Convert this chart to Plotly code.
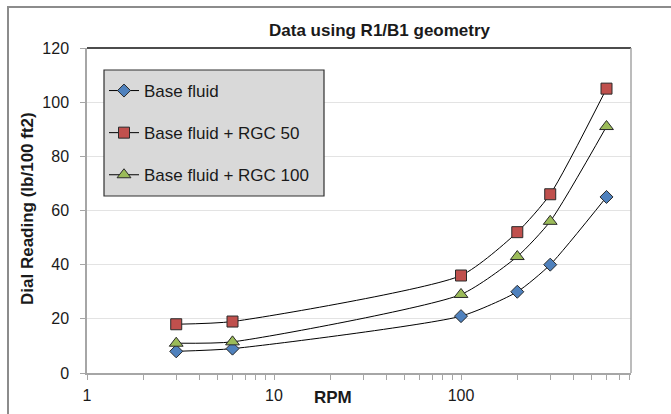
import plotly.graph_objects as go

rpm = [3, 6, 100, 200, 300, 600]
base_fluid = [8, 9, 21, 30, 40, 65]
rgc50 = [18, 19, 36, 52, 66, 105]
rgc100 = [11, 11.5, 29, 43, 56, 91]

series_names = ["Base fluid", "Base fluid + RGC 50", "Base fluid + RGC 100"]
x_tick_vals = [1, 10, 100]
x_tick_text = ["1", "10", "100"]
minor_vals = [2, 3, 4, 5, 6, 7, 8, 9, 20, 30, 40, 50, 60, 70, 80, 90,
              200, 300, 400, 500, 600, 700, 800, 900]

FONT = "Liberation Sans, Arial, sans-serif"
TXT = "#1a1a1a"

# plot area in pixels
L, R, T, B = 87, 631, 48, 373
W, H = 671, 414
pw, ph = R - L, B - T


def px(p):
    return (p - L) / pw


def py(q):
    return (B - q) / ph


fig = go.Figure()
styles = [
    dict(symbol="diamond", color="#4f81bd", size=10),
    dict(symbol="square", color="#c0504d", size=11),
    dict(symbol="triangle-up", color="#9bbb59", size=12),
]
for name, vals, st in zip(series_names, [base_fluid, rgc50, rgc100], styles):
    fig.add_trace(go.Scatter(
        x=rpm, y=vals, name=name, mode="lines+markers",
        legendgroup=name,
        line=dict(color="#000000", width=1, shape="spline", smoothing=0.6),
        marker=dict(symbol=st["symbol"], color=st["color"], size=st["size"],
                    line=dict(color="#2a2a2a", width=1)),
    ))

shapes = [
    # outer chart frame
    dict(type="rect", xref="paper", yref="paper",
         x0=px(8), x1=px(700), y0=py(430), y1=py(7),
         line=dict(color="#8c8c8c", width=2), fillcolor="rgba(0,0,0,0)", layer="below"),
    # legend box
    dict(type="rect", xref="paper", yref="paper",
         x0=px(104), x1=px(324), y0=py(196), y1=py(70),
         line=dict(color="#303030", width=1.2), fillcolor="#d9d9d9", layer="above"),
    # top border of plot area
    dict(type="line", xref="paper", yref="paper", x0=0, x1=1, y0=1, y1=1,
         line=dict(color="#111111", width=1.5)),
    # right border of plot area
    dict(type="line", xref="paper", yref="paper", x0=1, x1=1, y0=0, y1=1,
         line=dict(color="#a6a6a6", width=1.5)),
]

annotations = [
    dict(text="<b>Data using R1/B1 geometry</b>", xref="paper", yref="paper",
         x=px(380), y=py(30), xanchor="center", yanchor="middle", showarrow=False,
         font=dict(family=FONT, size=17, color=TXT)),
    dict(text="<b>Dial Reading (lb/100 ft2)</b>", xref="paper", yref="paper",
         x=px(27), y=py(209), xanchor="center", yanchor="middle", showarrow=False,
         textangle=-90, font=dict(family=FONT, size=17, color=TXT)),
    dict(text="<b>RPM</b>", xref="paper", yref="paper",
         x=px(333), y=py(397), xanchor="center", yanchor="middle", showarrow=False,
         font=dict(family=FONT, size=17, color=TXT)),
]

fig.update_layout(
    width=W, height=H,
    margin=dict(l=L, r=W - R, t=T, b=H - B, autoexpand=False),
    paper_bgcolor="white", plot_bgcolor="white",
    font=dict(family=FONT, size=16, color=TXT),
    showlegend=True,
    legend=dict(x=px(104), y=py(73), xanchor="left", yanchor="top",
                bgcolor="rgba(0,0,0,0)", borderwidth=0,
                font=dict(family=FONT, size=17, color=TXT),
                traceorder="grouped", tracegroupgap=17, itemsizing="trace"),
    shapes=shapes,
    annotations=annotations,
    xaxis=dict(type="log", range=[0, (R - L) / 187.0], automargin=False,
               tickmode="array", tickvals=x_tick_vals, ticktext=x_tick_text,
               ticks="outside", ticklen=5, tickcolor="#a6a6a6", tickwidth=1,
               showline=True, linecolor="#a6a6a6", linewidth=1.5,
               showgrid=False, zeroline=False, ticklabelstandoff=2,
               tickfont=dict(family=FONT, size=16, color=TXT),
               minor=dict(tickmode="array", tickvals=minor_vals, ticks="outside",
                          ticklen=5, tickcolor="#a6a6a6", tickwidth=1, showgrid=False)),
    yaxis=dict(range=[0, 120], tickmode="linear", tick0=0, dtick=20, automargin=False,
               ticks="outside", ticklen=5, tickcolor="#a6a6a6", tickwidth=1,
               showline=True, linecolor="#a6a6a6", linewidth=1.5,
               showgrid=True, gridcolor="#e3e3e3", gridwidth=1,
               zeroline=False, ticklabelstandoff=8,
               tickfont=dict(family=FONT, size=16, color=TXT)),
)

fig.write_html("out.html")
